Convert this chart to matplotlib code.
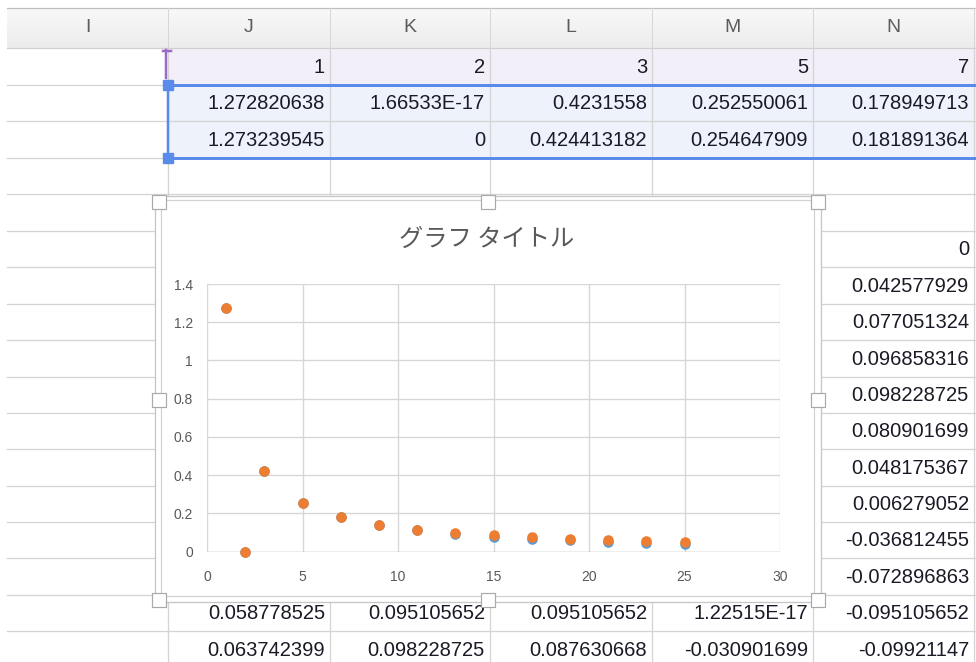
import numpy as np
import matplotlib
matplotlib.use("Agg")
import matplotlib.pyplot as plt
from matplotlib.patches import Rectangle

# ---- sheet contents ----
col_names = ["I", "J", "K", "L", "M", "N"]
col_edges = [7, 168, 330, 490, 652, 813, 974]
row_edges = [48, 84.5, 121, 157.5, 194, 230.5, 267, 303.5, 340, 376.5,
             412.5, 449, 485.5, 522, 558, 594.5, 631, 667]

harmonic_row = ["1", "2", "3", "5", "7"]
approx_row = ["1.272820638", "1.66533E-17", "0.4231558", "0.252550061", "0.178949713"]
exact_row = ["1.273239545", "0", "0.424413182", "0.254647909", "0.181891364"]

# column N, from the row below the chart's top edge downwards
col_n_values = ["0", "0.042577929", "0.077051324", "0.096858316", "0.098228725",
                "0.080901699", "0.048175367", "0.006279052", "-0.036812455",
                "-0.072896863", "-0.095105652", "-0.09921147"]
row_a_values = ["0.058778525", "0.095105652", "0.095105652", "1.22515E-17"]
row_b_values = ["0.063742399", "0.098228725", "0.087630668", "-0.030901699"]

# ---- chart series ----
n_values = [1, 2, 3, 5, 7, 9, 11, 13, 15, 17, 19, 21, 23, 25]
approx_coef = [1.272820638, 1.66533e-17, 0.4231558, 0.252550061, 0.178949713,
               0.13768, 0.11110, 0.09243, 0.07851, 0.06764, 0.05886,
               0.05157, 0.04537, 0.04000]
exact_coef = [1.273239545, 0.0, 0.424413182, 0.254647909, 0.181891364,
              0.141471, 0.115749, 0.097942, 0.084883, 0.074896, 0.067013,
              0.060630, 0.055358, 0.050930]
x_ticks = [0, 5, 10, 15, 20, 25, 30]
y_ticks = [0, 0.2, 0.4, 0.6, 0.8, 1.0, 1.2, 1.4]
chart_title = "グラフ タイトル"

W, H = 976, 662
fig = plt.figure(figsize=(W / 100, H / 100), dpi=100)
fig.patch.set_facecolor("white")

sheet = fig.add_axes([0, 0, 1, 1])
sheet.axis("off")

CELL_FONT = "Liberation Sans"
GRID = "#d4d4d4"
PX = 0.72  # one pixel in points

# header band with a soft vertical gradient
grad = np.linspace(0.975, 0.925, 50).reshape(-1, 1)
sheet.imshow(np.dstack([grad, grad, grad]), extent=(7, W, 48, 8),
             aspect="auto", zorder=0)
sheet.set_xlim(0, W)
sheet.set_ylim(H, 0)
sheet.plot([7, W], [8, 8], color="#bdbdbd", lw=1.2 * PX, zorder=1)
sheet.plot([7, W], [48, 48], color="#cfcfcf", lw=1.2 * PX, zorder=1)
for i, name in enumerate(col_names):
    cx = (col_edges[i] + col_edges[i + 1]) / 2
    sheet.text(cx, 28, name, ha="center", va="center", fontsize=14,
               family=CELL_FONT, color="#5c5c5c", zorder=3)
for x in col_edges[1:]:
    sheet.plot([x, x], [8, 48], color="#d6d6d6", lw=PX, zorder=1)

# selection tints
sheet.add_patch(Rectangle((168, 48), W - 168, 36.5, color="#f3eff8", zorder=0.5))
sheet.add_patch(Rectangle((168, 84.5), W - 168, 73, color="#edf2fb", zorder=0.5))

# cell grid
for y in row_edges[1:]:
    sheet.plot([7, W], [y, y], color=GRID, lw=1.3 * PX, zorder=1)
for x in col_edges[1:]:
    sheet.plot([x, x], [48, H], color=GRID, lw=1.3 * PX, zorder=1)


def cell(col, row, text):
    x = col_edges[col + 1] - 5
    y = (row_edges[row] + row_edges[row + 1]) / 2 + 1
    sheet.text(x, y, text, ha="right", va="center", fontsize=14.5,
               family=CELL_FONT, color="#1a1a26", zorder=3)


for j, v in enumerate(harmonic_row):
    cell(j + 1, 0, v)
for j, v in enumerate(approx_row):
    cell(j + 1, 1, v)
for j, v in enumerate(exact_row):
    cell(j + 1, 2, v)
for r, v in enumerate(col_n_values):
    cell(5, r + 5, v)
for j, v in enumerate(row_a_values):
    cell(j + 1, 15, v)
for j, v in enumerate(row_b_values):
    cell(j + 1, 16, v)

# selection borders and handles
sel = "#5b8bea"
sheet.plot([168, W], [84.5, 84.5], color=sel, lw=3 * PX, zorder=4)
sheet.plot([168, W], [158, 158], color=sel, lw=3 * PX, zorder=4)
sheet.plot([168, 168], [84.5, 158], color=sel, lw=2.5 * PX, zorder=4)
for hy in (84.5, 158):
    sheet.add_patch(Rectangle((163, hy - 5), 10, 10, color=sel, zorder=5))
purple = "#9a6cc8"
sheet.plot([166, 166], [50, 78], color=purple, lw=2.5 * PX, zorder=4)
sheet.plot([163, 171], [50.5, 50.5], color=purple, lw=2.5 * PX, zorder=4)

# chart object frame
sheet.add_patch(Rectangle((155, 195.5), 666, 406.5, facecolor="white",
                          edgecolor="#c6c6c6", lw=1.3 * PX, zorder=6))
sheet.add_patch(Rectangle((161, 199.5), 653, 396, facecolor="white",
                          edgecolor="#d2d2d2", lw=1.2 * PX, zorder=6))
for hx in (158.5, 488, 817.5):
    for hy in (201.5, 400, 600):
        if hx == 488 and hy == 400:
            continue
        sheet.add_patch(Rectangle((hx - 7, hy - 7), 14, 14, facecolor="white",
                                  edgecolor="#a9a9a9", lw=1.2 * PX, zorder=7))

sheet.text(487, 239, chart_title, ha="center", va="center", fontsize=17.5,
           family=["Noto Sans CJK JP", "DejaVu Sans"], color="#595959", zorder=8)

# scatter plot area
left, right, top, bottom = 207, 780, 284, 551.7
ax = fig.add_axes([left / W, (H - bottom) / H, (right - left) / W, (bottom - top) / H])
ax.set_facecolor("none")
ax.set_xlim(0, 30)
ax.set_ylim(0, 1.4)
ax.set_xticks(x_ticks)
ax.set_yticks(y_ticks)
ax.set_xticklabels([f"{t:g}" for t in x_ticks])
ax.set_yticklabels([f"{t:g}" for t in y_ticks])
for s in ax.spines.values():
    s.set_visible(False)
ax.grid(True, color="#d6d6d6", lw=1.3 * PX)
ax.axhline(0, color="#c4c4c4", lw=1.4 * PX, zorder=1)
ax.set_axisbelow(True)
ax.tick_params(length=0, labelsize=10, colors="#595959")
ax.tick_params(axis="y", pad=10)
ax.tick_params(axis="x", pad=13)
for lab in ax.get_xticklabels() + ax.get_yticklabels():
    lab.set_family("Liberation Sans")

ax.scatter(n_values, approx_coef, s=58, color="#5b9bd5", linewidths=0,
           zorder=3, clip_on=False)
ax.scatter(n_values, exact_coef, s=58, color="#ed7d31", linewidths=0,
           zorder=4, clip_on=False)

fig.savefig("out.png", dpi=100)
